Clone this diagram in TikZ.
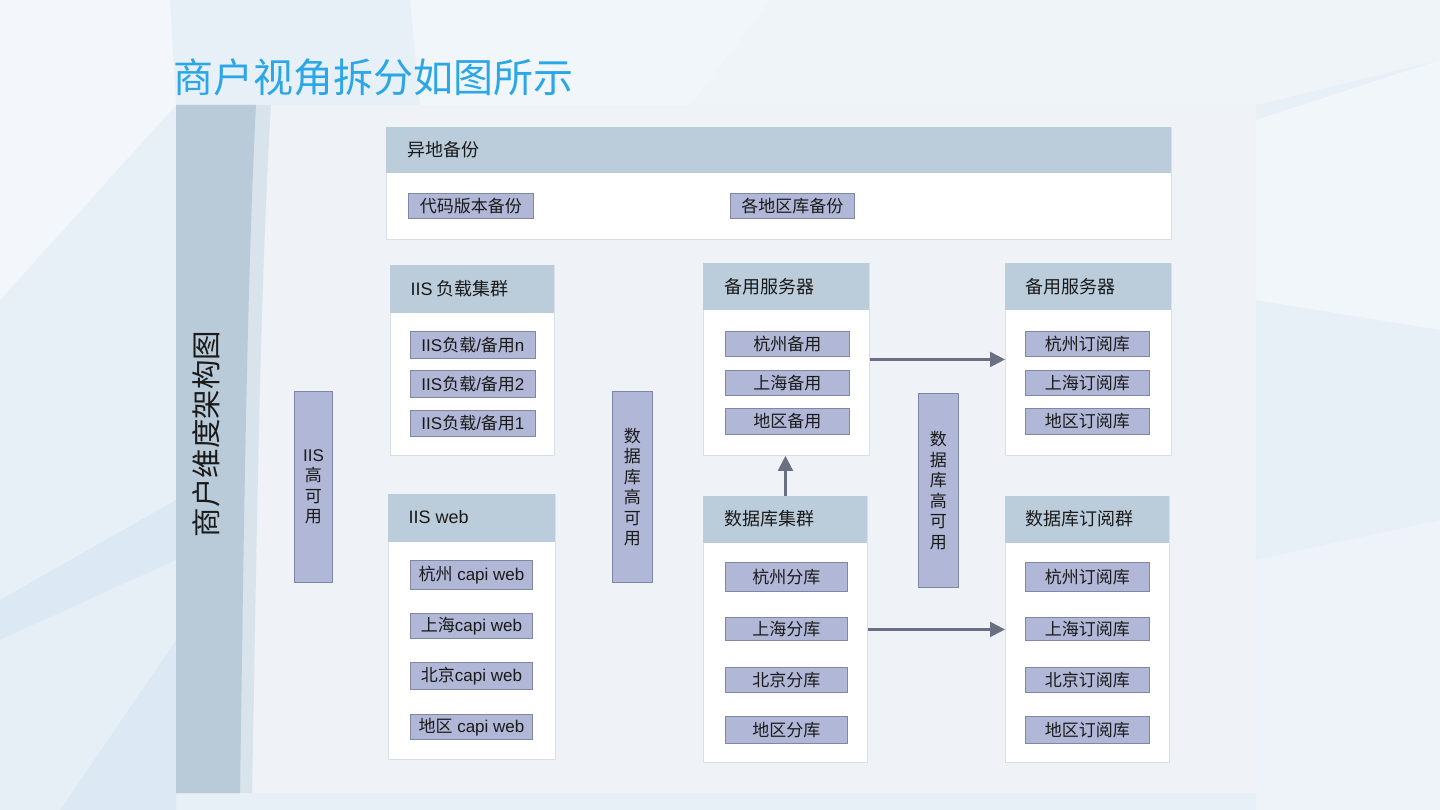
\documentclass[tikz,border=0pt]{standalone}
\usepackage{fontspec}
\setmainfont{Noto Sans CJK SC}
\newfontfamily\lat{Liberation Sans}
\usetikzlibrary{arrows.meta}
\definecolor{bgbase}{HTML}{E7EFF7}
\definecolor{bgblue}{HTML}{D6E4F1}
\definecolor{panel}{HTML}{EFF3F7}
\definecolor{band}{HTML}{B9CBD9}
\definecolor{bandlight}{HTML}{D8E3EC}
\definecolor{hdrfill}{HTML}{BBCDDB}
\definecolor{grpline}{HTML}{D9E0E8}
\definecolor{boxfill}{HTML}{B1B7D6}
\definecolor{boxline}{HTML}{7F87A6}
\definecolor{txt}{HTML}{1A1A1A}
\definecolor{titleblue}{HTML}{2BA6E6}
\definecolor{arrowcol}{HTML}{6B6F82}
\tikzset{
  sbox/.style={draw=boxline, fill=boxfill, line width=0.9pt, inner sep=0pt, anchor=north west,
    font=\fontsize{17}{19}\selectfont, text=txt},
  grp/.style={draw=grpline, fill=white, line width=0.9pt, inner sep=0pt, anchor=north west},
  hdr/.style={fill=hdrfill, inner sep=0pt, anchor=north west},
  hlabel/.style={anchor=west, font=\fontsize{18}{21}\selectfont, text=txt},
  pill/.style={draw=boxline, fill=boxfill, line width=0.9pt, inner sep=0pt, anchor=north west,
    align=center, font=\fontsize{17}{20.5}\selectfont, text=txt},
  arr/.style={draw=arrowcol, line width=2.2pt, -{Triangle[length=15pt,width=15pt]}}
}
\begin{document}
\begin{tikzpicture}[x=1pt,y=-1pt]
\useasboundingbox (0,0) rectangle (1440,810);
% background
\fill[bgbase] (0,0) rectangle (1440,810);
\fill[white,opacity=0.45] (410,0) -- (770,0) -- (690,105) -- (420,105) -- cycle;
\fill[white,opacity=0.35] (770,0) -- (1440,0) -- (1440,60) -- (1256,105) -- (690,105) -- cycle;
\fill[white,opacity=0.45] (1256,120) -- (1440,60) -- (1440,330) -- (1256,300) -- cycle;
\fill[white,opacity=0.3] (1256,560) -- (1440,520) -- (1440,810) -- (1256,810) -- cycle;
\fill[white,opacity=0.5] (0,0) -- (170,0) -- (176,105) -- (0,300) -- cycle;
\fill[bgblue,opacity=0.6] (0,600) -- (176,500) -- (176,810) -- (0,810) -- cycle;
\fill[white,opacity=0.3] (0,640) -- (176,560) -- (176,640) -- (60,810) -- (0,810) -- cycle;
% panel
\fill[panel] (176,105) rectangle (1256,793);
\fill[bandlight] (176,105) -- (271,105) .. controls (259,300) and (256,600) .. (252,793) -- (176,793) -- cycle;
\fill[band] (176,105) -- (256,105) .. controls (246,300) and (243,600) .. (240,793) -- (176,793) -- cycle;
% title
\node[anchor=west, text=titleblue, font=\fontsize{40}{45}\selectfont, inner sep=0pt] (title) at (173,77) {商户视角拆分如图所示};
\node[rotate=90, text=txt, font=\fontsize{29.5}{31}\selectfont, inner sep=0pt] (side) at (206,434) {商户维度架构图};

% group: 异地备份
\node[grp, minimum width=785pt, minimum height=112pt] (gbak) at (386,127) {};
\node[hdr, minimum width=785pt, minimum height=46pt] (gbakh) at (386,127) {};
\node[hlabel] (gbakt) at (404,150) {异地备份};
\node[sbox, minimum width=125pt, minimum height=25pt] (b1) at (408,193) {代码版本备份};
\node[sbox, minimum width=124pt, minimum height=25pt] (b2) at (730,193) {各地区库备份};

% IIS 负载集群
\node[grp, minimum width=164pt, minimum height=190pt] (giis) at (390,265) {};
\node[hdr, minimum width=164pt, minimum height=48pt] (giish) at (390,265) {};
\node[hlabel] (giist) at (407,289) {{\lat IIS} 负载集群};
\node[sbox, minimum width=125pt, minimum height=27pt] (l1) at (410,331) {{\lat IIS}负载{\lat /}备用{\lat n}};
\node[sbox, minimum width=125pt, minimum height=27pt] (l2) at (410,370) {{\lat IIS}负载{\lat /}备用{\lat 2}};
\node[sbox, minimum width=125pt, minimum height=26pt] (l3) at (410,410) {{\lat IIS}负载{\lat /}备用{\lat 1}};

% IIS web
\node[grp, minimum width=167pt, minimum height=265pt] (gweb) at (388,494) {};
\node[hdr, minimum width=167pt, minimum height=48pt] (gwebh) at (388,494) {};
\node[hlabel] (gwebt) at (405,517) {\lat IIS web};
\node[sbox, minimum width=122pt, minimum height=29pt] (w1) at (410,560) {杭州{\lat\ capi web}};
\node[sbox, minimum width=122pt, minimum height=25pt] (w2) at (410,613) {上海{\lat capi web}};
\node[sbox, minimum width=122pt, minimum height=27pt] (w3) at (410,662) {北京{\lat capi web}};
\node[sbox, minimum width=122pt, minimum height=25pt] (w4) at (410,714) {地区{\lat\ capi web}};

% pills
\node[pill, minimum width=38pt, minimum height=191pt] (p1) at (294,391) {{\lat IIS}\\高\\可\\用};
\node[pill, minimum width=40pt, minimum height=191pt] (p2) at (612,391) {数\\据\\库\\高\\可\\用};
\node[pill, minimum width=40pt, minimum height=194pt] (p3) at (918,393) {数\\据\\库\\高\\可\\用};

% 备用服务器 (centre)
\node[grp, minimum width=166pt, minimum height=192pt] (bkC) at (703,263) {};
\node[hdr, minimum width=166pt, minimum height=47pt] (bkCh) at (703,263) {};
\node[hlabel] (bkCt) at (721,287) {备用服务器};
\node[sbox, minimum width=124pt, minimum height=25pt] (c1) at (725,331) {杭州备用};
\node[sbox, minimum width=124pt, minimum height=25pt] (c2) at (725,370) {上海备用};
\node[sbox, minimum width=124pt, minimum height=26pt] (c3) at (725,408) {地区备用};

% 数据库集群
\node[grp, minimum width=164pt, minimum height=266pt] (dbC) at (703,496) {};
\node[hdr, minimum width=164pt, minimum height=47pt] (dbCh) at (703,496) {};
\node[hlabel] (dbCt) at (721,519) {数据库集群};
\node[sbox, minimum width=122pt, minimum height=29pt] (d1) at (725,562) {杭州分库};
\node[sbox, minimum width=122pt, minimum height=23pt] (d2) at (725,617) {上海分库};
\node[sbox, minimum width=122pt, minimum height=25pt] (d3) at (725,667) {北京分库};
\node[sbox, minimum width=122pt, minimum height=27pt] (d4) at (725,716) {地区分库};

% 备用服务器 (right)
\node[grp, minimum width=166pt, minimum height=192pt] (bkR) at (1005,263) {};
\node[hdr, minimum width=166pt, minimum height=47pt] (bkRh) at (1005,263) {};
\node[hlabel] (bkRt) at (1022,287) {备用服务器};
\node[sbox, minimum width=124pt, minimum height=25pt] (r1) at (1025,331) {杭州订阅库};
\node[sbox, minimum width=124pt, minimum height=25pt] (r2) at (1025,370) {上海订阅库};
\node[sbox, minimum width=124pt, minimum height=26pt] (r3) at (1025,408) {地区订阅库};

% 数据库订阅群
\node[grp, minimum width=164pt, minimum height=266pt] (dbR) at (1005,496) {};
\node[hdr, minimum width=164pt, minimum height=47pt] (dbRh) at (1005,496) {};
\node[hlabel] (dbRt) at (1022,519) {数据库订阅群};
\node[sbox, minimum width=124pt, minimum height=29pt] (s1) at (1025,562) {杭州订阅库};
\node[sbox, minimum width=124pt, minimum height=23pt] (s2) at (1025,617) {上海订阅库};
\node[sbox, minimum width=124pt, minimum height=25pt] (s3) at (1025,667) {北京订阅库};
\node[sbox, minimum width=124pt, minimum height=27pt] (s4) at (1025,716) {地区订阅库};

% arrows
\draw[arr] (bkC.east) -- (bkR.west);
\draw[arr] (dbC.north) -- (bkC.south -| dbC.north);
\draw[arr] (dbC.east) -- (dbR.west);
\end{tikzpicture}
\end{document}
